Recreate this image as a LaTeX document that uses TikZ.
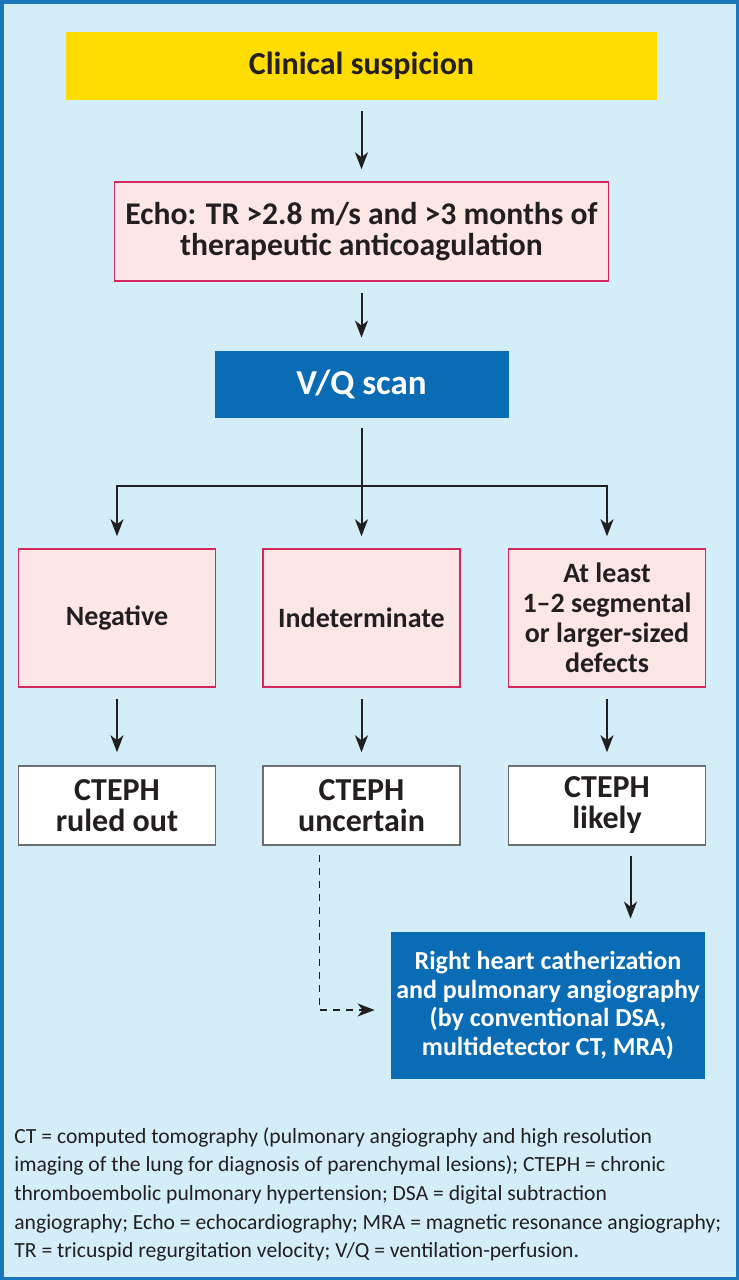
\documentclass[tikz,border=0pt]{standalone}
\usepackage{fontspec}
\setmainfont{Carlito}
\usetikzlibrary{arrows.meta,positioning}
\definecolor{bgblue}{HTML}{D3EEF9}
\definecolor{frameblue}{HTML}{1B75BB}
\definecolor{boxblue}{HTML}{0A6CB5}
\definecolor{suspyellow}{HTML}{FFDD00}
\definecolor{pinkfill}{HTML}{FDE6E6}
\definecolor{pinkline}{HTML}{D4285C}
\definecolor{greyline}{HTML}{6D6E71}
\definecolor{darktext}{HTML}{231F20}

\begin{document}
\begin{tikzpicture}[x=0.5pt, y=-0.5pt, text=darktext,
	box/.style={inner sep=0pt, align=center, font=\bfseries\fontsize{14}{15}\selectfont},
	yellowbox/.style={box, fill=suspyellow, font=\bfseries\fontsize{16}{16}\selectfont},
	pinkbox/.style={box, draw=pinkline, fill=pinkfill, line width=0.75pt},
	bluebox/.style={box, fill=boxblue, text=white},
	whitebox/.style={box, draw=greyline, fill=white, line width=0.75pt, minimum width=98.5pt, minimum height=39.5pt, font=\bfseries\fontsize{16}{15.5}\selectfont},
	arrow/.style={draw=darktext, line width=1pt, -{Stealth[length=8.5pt,width=6.5pt,inset=2.5pt]}},
	dasharrow/.style={arrow, line width=0.75pt, dash pattern=on 3.5pt off 3pt}]
			\useasboundingbox (0,0) rectangle (739,1280);
			\fill[bgblue] (0,0) rectangle (739,1280);
			\draw[frameblue, line width=1.75pt] (1.75,1.75) rectangle (737.25,1278.25);
			
			\node (1) [yellowbox, minimum width=295.5pt, minimum height=34pt] at (361.5,66) {Clinical suspicion};
			\node (2) [pinkbox, minimum width=247pt, minimum height=49.5pt, font=\bfseries\fontsize{15.8}{15.5}\selectfont, node distance=82.75pt, below of=1] {Echo: TR >2.8 m/s and >3 months of\\therapeutic anticoagulation};
			\node (3) [bluebox, minimum width=147pt, minimum height=33.5pt, font=\bfseries\fontsize{17.5}{17.5}\selectfont, node distance=76.5pt, below of=2] {V/Q scan};
			\node (4) [pinkbox, minimum width=98.5pt, minimum height=69pt, node distance=116.75pt, below of=3] {Indeterminate};
			\node (5) [pinkbox, minimum width=98.5pt, minimum height=69pt, node distance=122.25pt, left of=4] {Negative};
			\node (6) [pinkbox, minimum width=98.5pt, minimum height=69pt, node distance=122.75pt, right of=4] {At least\\1--2 segmental\\or larger-sized\\defects};
			\node (7) [whitebox, node distance=93.75pt, below of=5] {CTEPH\\ruled out};
			\node (8) [whitebox, node distance=93.75pt, below of=4] {CTEPH\\uncertain};
			\node (9) [whitebox, node distance=93.75pt, below of=6] {CTEPH\\likely};
			\node (10) [bluebox, minimum width=157pt, minimum height=73.5pt, font=\bfseries\fontsize{13}{14.25}\selectfont] at (548,1005.5) {Right heart catherization\\and pulmonary angiography\\(by conventional DSA,\\multidetector CT, MRA)};
			\node (11) [inner sep=0pt, anchor=north west, align=left, font=\fontsize{10.8}{14.3}\selectfont] at (14,1127) {CT = computed tomography (pulmonary angiography and high resolution\\imaging of the lung for diagnosis of parenchymal lesions); CTEPH = chronic\\thromboembolic pulmonary hypertension; DSA = digital subtraction\\angiography; Echo = echocardiography; MRA = magnetic resonance angiography;\\TR = tricuspid regurgitation velocity; V/Q = ventilation-perfusion.};
			
			\draw[arrow, shorten <=5.5pt, shorten >=6pt] (1) -- (2);
			\draw[arrow, shorten <=5.5pt, shorten >=6.5pt] (2) -- (3);
			\path (3.south) ++(0,68) coordinate (split);
			\draw[arrow, shorten <=5pt, shorten >=6pt] (3) -- (4);
			\draw[arrow, shorten >=6pt] (split) -| (5);
			\draw[arrow, shorten >=6pt] (split) -| (6);
			\foreach \a/\b in {5/7, 4/8, 6/9}
				\draw[arrow, shorten <=5.5pt, shorten >=6.5pt] (\a) -- (\b);
			\draw[arrow, shorten <=5pt, shorten >=6.5pt] ([xshift=11.75pt]9.south) -- ([xshift=11.75pt]9.south |- 10.north);
			\draw[dasharrow, shorten <=4.5pt, shorten >=8pt] ([xshift=-21pt]8.south) |- ([yshift=-2.25pt]10.west);
		\end{tikzpicture}
\end{document}
